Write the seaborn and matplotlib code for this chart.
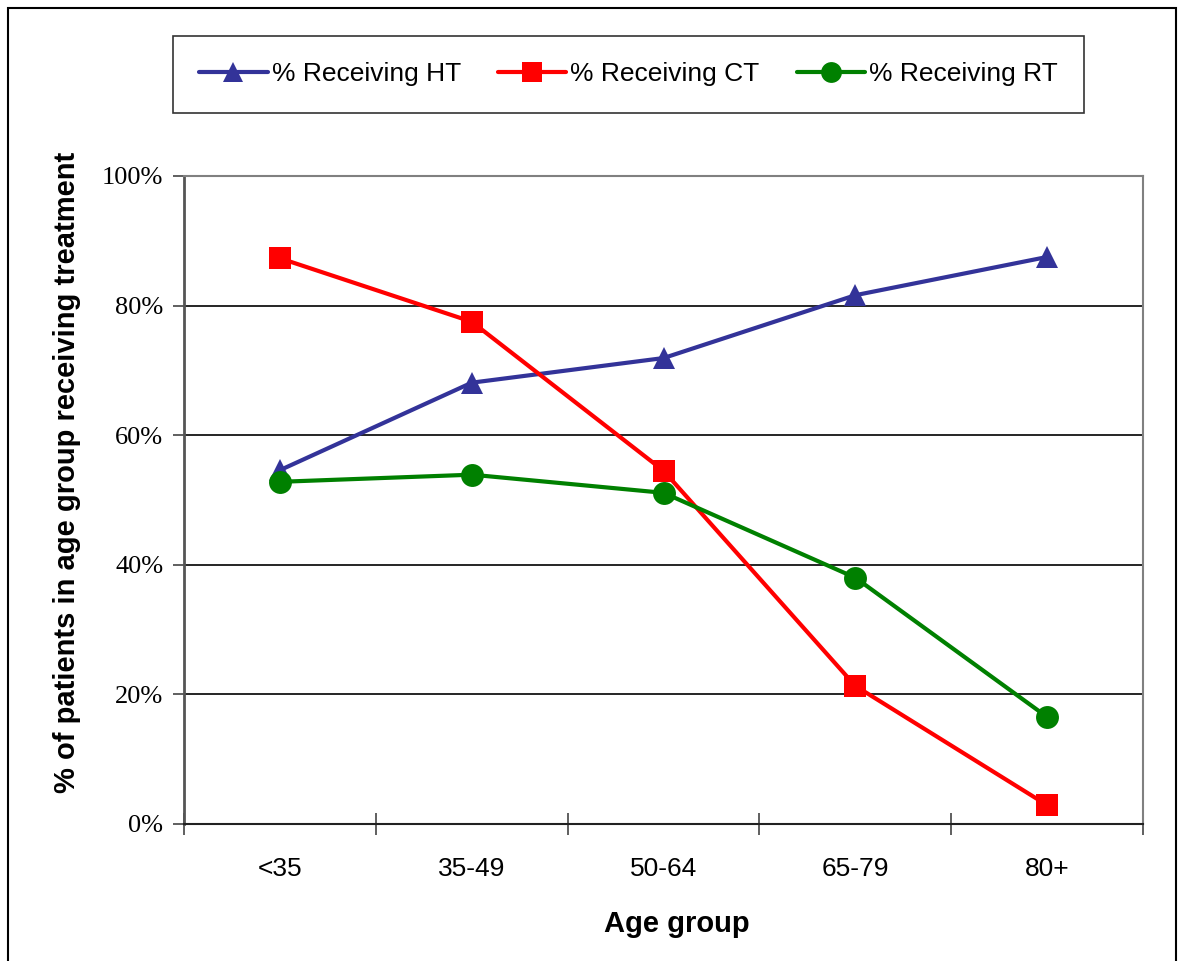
import numpy as np
import pandas as pd
import matplotlib
matplotlib.use("Agg")
import matplotlib.pyplot as plt
from matplotlib.patches import Rectangle
import seaborn as sns

# Data
age_groups = ["<35", "35-49", "50-64", "65-79", "80+"]
ht_pct = [54.6, 68.1, 71.9, 81.6, 87.5]
ct_pct = [87.3, 77.5, 54.5, 21.3, 2.9]
rt_pct = [52.8, 53.9, 51.1, 38.0, 16.5]
series_names = ["% Receiving HT", "% Receiving CT", "% Receiving RT"]
y_ticks = [0, 20, 40, 60, 80, 100]

df = pd.DataFrame({
    "age": age_groups * 3,
    "x": list(range(len(age_groups))) * 3,
    "pct": ht_pct + ct_pct + rt_pct,
    "series": [s for s in series_names for _ in age_groups],
})

colors = {"% Receiving HT": "#333399", "% Receiving CT": "#FF0000", "% Receiving RT": "#008000"}
markers = {"% Receiving HT": "^", "% Receiving CT": "s", "% Receiving RT": "o"}

sns.set_theme(style="white")
plt.rcParams["font.family"] = ["Liberation Sans", "DejaVu Sans"]
plt.rcParams["text.color"] = "black"
plt.rcParams["axes.labelcolor"] = "black"
plt.rcParams["xtick.color"] = "black"
plt.rcParams["ytick.color"] = "black"

fig = plt.figure(figsize=(11.8, 9.61), dpi=100)
ax = fig.add_axes([0.156, 0.1426, 0.8127, 0.6743])

sns.lineplot(data=df, x="x", y="pct", hue="series", style="series",
             palette=colors, markers=markers, dashes=False, linewidth=3,
             markersize=16.5, markeredgewidth=0, ax=ax, legend=False, zorder=3)

ax.set_xlim(-0.5, len(age_groups) - 0.5)
ax.set_ylim(0, 100)

# gridlines
ax.set_yticks(y_ticks)
ax.set_yticklabels([f"{v}%" for v in y_ticks], family="Liberation Serif", fontsize=19)
ax.yaxis.grid(True, color="black", linewidth=1.2)
ax.set_axisbelow(True)
ax.tick_params(axis="y", direction="out", length=8, width=1.2, color="#444444",
               labelcolor="black", left=True, pad=7)

# category labels in the middle, ticks on the boundaries
ax.set_xticks(np.arange(-0.5, len(age_groups), 1.0))
ax.set_xticklabels([])
ax.set_xticks(range(len(age_groups)), minor=True)
ax.set_xticklabels(age_groups, minor=True, fontsize=19)
ax.tick_params(axis="x", which="major", direction="inout", length=16, width=1.2,
               color="#444444", bottom=True)
ax.tick_params(axis="x", which="minor", length=0, pad=24, labelcolor="black")

for side in ["top", "right"]:
    ax.spines[side].set_color("#808080")
    ax.spines[side].set_linewidth(1.5)
ax.spines["left"].set_color("#555555")
ax.spines["left"].set_linewidth(2)
ax.spines["bottom"].set_color("#222222")
ax.spines["bottom"].set_linewidth(1.5)

ax.set_xlabel("Age group", fontsize=21, fontweight="bold")
ax.set_ylabel("% of patients in age group receiving treatment", fontsize=21, fontweight="bold")
ax.xaxis.set_label_coords(0.514, -0.1325)
ax.yaxis.set_label_coords(-0.108, 0.543)

# legend above the plot
handles = [plt.Line2D([], [], color=colors[s], marker=markers[s], linewidth=3,
                      markersize=15, markeredgewidth=0) for s in series_names]
leg = fig.legend(handles, series_names, loc="center", bbox_to_anchor=(0.5326, 0.9225),
                 ncol=3, fontsize=19, frameon=True, fancybox=False, handlelength=2.6,
                 handletextpad=0.15, columnspacing=1.4, borderpad=1.0)
leg.get_frame().set_edgecolor("black")
leg.get_frame().set_linewidth(1.2)

# outer chart border
fig.patches.append(Rectangle((0.0068, -0.05), 0.99, 1.042, transform=fig.transFigure,
                             fill=False, edgecolor="black", linewidth=1.5))

fig.savefig("out.png", dpi=100)
